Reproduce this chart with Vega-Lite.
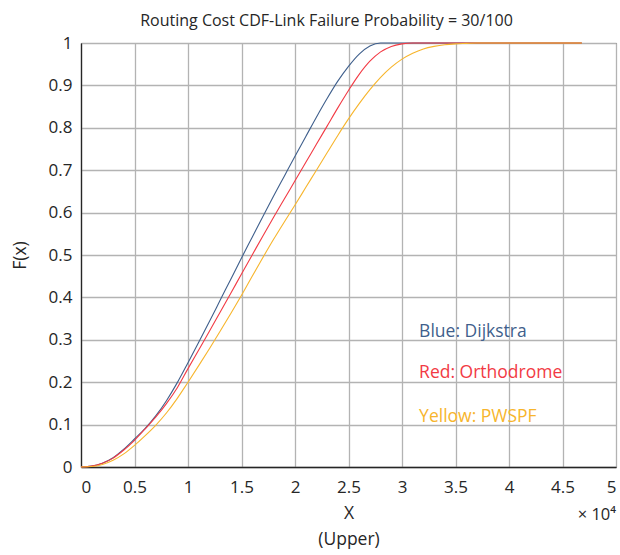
{
  "$schema": "https://vega.github.io/schema/vega-lite/v6.json",
  "width": 535,
  "height": 424,
  "autosize": {"type": "none"},
  "padding": {"left": 81, "top": 43, "right": 4, "bottom": 88},
  "background": "white",
  "config": {
    "font": "Open Sans",
    "view": {"stroke": "#404040", "strokeWidth": 1},
    "axis": {
      "gridColor": "#b3b3b3",
      "gridWidth": 1.3,
      "gridOpacity": 1,
      "domainColor": "#262626",
      "domainWidth": 1.3,
      "ticks": false,
      "labelColor": "#262626",
      "titleColor": "#262626",
      "labelFont": "Open Sans",
      "titleFont": "Open Sans",
      "labelFontSize": 17,
      "titleFontSize": 17.5,
      "titleFontWeight": "normal"
    }
  },
  "title": {
    "text": "Routing Cost CDF-Link Failure Probability = 30/100",
    "font": "Open Sans",
    "fontSize": 16,
    "fontWeight": "normal",
    "color": "#262626",
    "anchor": "middle",
    "dx": -22,
    "offset": 5
  },
  "datasets": {
    "curves": [
      {"x": 0, "F": 0, "algo": "Dijkstra"},
      {"x": 1000, "F": 0.002, "algo": "Dijkstra"},
      {"x": 2000, "F": 0.009, "algo": "Dijkstra"},
      {"x": 3000, "F": 0.022, "algo": "Dijkstra"},
      {"x": 4000, "F": 0.042, "algo": "Dijkstra"},
      {"x": 5000, "F": 0.066, "algo": "Dijkstra"},
      {"x": 6000, "F": 0.091, "algo": "Dijkstra"},
      {"x": 7000, "F": 0.121, "algo": "Dijkstra"},
      {"x": 8000, "F": 0.157, "algo": "Dijkstra"},
      {"x": 9000, "F": 0.199, "algo": "Dijkstra"},
      {"x": 10000, "F": 0.246, "algo": "Dijkstra"},
      {"x": 11000, "F": 0.294, "algo": "Dijkstra"},
      {"x": 12000, "F": 0.343, "algo": "Dijkstra"},
      {"x": 13000, "F": 0.393, "algo": "Dijkstra"},
      {"x": 14000, "F": 0.443, "algo": "Dijkstra"},
      {"x": 15000, "F": 0.493, "algo": "Dijkstra"},
      {"x": 16000, "F": 0.542, "algo": "Dijkstra"},
      {"x": 17000, "F": 0.591, "algo": "Dijkstra"},
      {"x": 18000, "F": 0.639, "algo": "Dijkstra"},
      {"x": 19000, "F": 0.686, "algo": "Dijkstra"},
      {"x": 20000, "F": 0.733, "algo": "Dijkstra"},
      {"x": 21000, "F": 0.779, "algo": "Dijkstra"},
      {"x": 22000, "F": 0.825, "algo": "Dijkstra"},
      {"x": 23000, "F": 0.869, "algo": "Dijkstra"},
      {"x": 24000, "F": 0.91, "algo": "Dijkstra"},
      {"x": 25000, "F": 0.945, "algo": "Dijkstra"},
      {"x": 26000, "F": 0.974, "algo": "Dijkstra"},
      {"x": 27000, "F": 0.993, "algo": "Dijkstra"},
      {"x": 28000, "F": 1.0, "algo": "Dijkstra"},
      {"x": 30000, "F": 1.0, "algo": "Dijkstra"},
      {"x": 35000, "F": 1.0, "algo": "Dijkstra"},
      {"x": 40000, "F": 1.0, "algo": "Dijkstra"},
      {"x": 46800, "F": 1.0, "algo": "Dijkstra"},
      {"x": 0, "F": 0, "algo": "Orthodrome"},
      {"x": 1000, "F": 0.002, "algo": "Orthodrome"},
      {"x": 2000, "F": 0.009, "algo": "Orthodrome"},
      {"x": 3000, "F": 0.021, "algo": "Orthodrome"},
      {"x": 4000, "F": 0.04, "algo": "Orthodrome"},
      {"x": 5000, "F": 0.063, "algo": "Orthodrome"},
      {"x": 6000, "F": 0.09, "algo": "Orthodrome"},
      {"x": 7000, "F": 0.118, "algo": "Orthodrome"},
      {"x": 8000, "F": 0.15, "algo": "Orthodrome"},
      {"x": 9000, "F": 0.187, "algo": "Orthodrome"},
      {"x": 10000, "F": 0.232, "algo": "Orthodrome"},
      {"x": 11000, "F": 0.276, "algo": "Orthodrome"},
      {"x": 12000, "F": 0.32, "algo": "Orthodrome"},
      {"x": 13000, "F": 0.365, "algo": "Orthodrome"},
      {"x": 14000, "F": 0.41, "algo": "Orthodrome"},
      {"x": 15000, "F": 0.455, "algo": "Orthodrome"},
      {"x": 16000, "F": 0.5, "algo": "Orthodrome"},
      {"x": 17000, "F": 0.545, "algo": "Orthodrome"},
      {"x": 18000, "F": 0.589, "algo": "Orthodrome"},
      {"x": 19000, "F": 0.632, "algo": "Orthodrome"},
      {"x": 20000, "F": 0.675, "algo": "Orthodrome"},
      {"x": 21000, "F": 0.718, "algo": "Orthodrome"},
      {"x": 22000, "F": 0.761, "algo": "Orthodrome"},
      {"x": 23000, "F": 0.804, "algo": "Orthodrome"},
      {"x": 24000, "F": 0.847, "algo": "Orthodrome"},
      {"x": 25000, "F": 0.888, "algo": "Orthodrome"},
      {"x": 26000, "F": 0.926, "algo": "Orthodrome"},
      {"x": 27000, "F": 0.957, "algo": "Orthodrome"},
      {"x": 28000, "F": 0.979, "algo": "Orthodrome"},
      {"x": 29000, "F": 0.992, "algo": "Orthodrome"},
      {"x": 30000, "F": 0.998, "algo": "Orthodrome"},
      {"x": 31000, "F": 1.0, "algo": "Orthodrome"},
      {"x": 35000, "F": 1.0, "algo": "Orthodrome"},
      {"x": 40000, "F": 1.0, "algo": "Orthodrome"},
      {"x": 46800, "F": 1.0, "algo": "Orthodrome"},
      {"x": 0, "F": 0, "algo": "PWSPF"},
      {"x": 1000, "F": 0.001, "algo": "PWSPF"},
      {"x": 2000, "F": 0.006, "algo": "PWSPF"},
      {"x": 3000, "F": 0.016, "algo": "PWSPF"},
      {"x": 4000, "F": 0.031, "algo": "PWSPF"},
      {"x": 5000, "F": 0.051, "algo": "PWSPF"},
      {"x": 6000, "F": 0.074, "algo": "PWSPF"},
      {"x": 7000, "F": 0.099, "algo": "PWSPF"},
      {"x": 8000, "F": 0.128, "algo": "PWSPF"},
      {"x": 9000, "F": 0.162, "algo": "PWSPF"},
      {"x": 10000, "F": 0.2, "algo": "PWSPF"},
      {"x": 11000, "F": 0.239, "algo": "PWSPF"},
      {"x": 12000, "F": 0.279, "algo": "PWSPF"},
      {"x": 13000, "F": 0.32, "algo": "PWSPF"},
      {"x": 14000, "F": 0.362, "algo": "PWSPF"},
      {"x": 15000, "F": 0.405, "algo": "PWSPF"},
      {"x": 16000, "F": 0.45, "algo": "PWSPF"},
      {"x": 17000, "F": 0.494, "algo": "PWSPF"},
      {"x": 18000, "F": 0.537, "algo": "PWSPF"},
      {"x": 19000, "F": 0.578, "algo": "PWSPF"},
      {"x": 20000, "F": 0.618, "algo": "PWSPF"},
      {"x": 21000, "F": 0.659, "algo": "PWSPF"},
      {"x": 22000, "F": 0.7, "algo": "PWSPF"},
      {"x": 23000, "F": 0.741, "algo": "PWSPF"},
      {"x": 24000, "F": 0.782, "algo": "PWSPF"},
      {"x": 25000, "F": 0.821, "algo": "PWSPF"},
      {"x": 26000, "F": 0.857, "algo": "PWSPF"},
      {"x": 27000, "F": 0.89, "algo": "PWSPF"},
      {"x": 28000, "F": 0.919, "algo": "PWSPF"},
      {"x": 29000, "F": 0.943, "algo": "PWSPF"},
      {"x": 30000, "F": 0.962, "algo": "PWSPF"},
      {"x": 31000, "F": 0.976, "algo": "PWSPF"},
      {"x": 32000, "F": 0.986, "algo": "PWSPF"},
      {"x": 33000, "F": 0.992, "algo": "PWSPF"},
      {"x": 34000, "F": 0.996, "algo": "PWSPF"},
      {"x": 35000, "F": 0.998, "algo": "PWSPF"},
      {"x": 36000, "F": 0.999, "algo": "PWSPF"},
      {"x": 37000, "F": 1.0, "algo": "PWSPF"},
      {"x": 40000, "F": 1.0, "algo": "PWSPF"},
      {"x": 46800, "F": 1.0, "algo": "PWSPF"}
    ],
    "labels": [
      {"x": 31600, "F": 0.318, "algo": "Dijkstra", "label": "Blue: Dijkstra"},
      {"x": 31600, "F": 0.222, "algo": "Orthodrome", "label": "Red: Orthodrome"},
      {"x": 31600, "F": 0.118, "algo": "PWSPF", "label": "Yellow: PWSPF"}
    ],
    "exponent": [
      {"x": 50000, "F": 0, "label": "× 10⁴"}
    ]
  },
  "layer": [
    {
      "data": {"name": "curves"},
      "mark": {"type": "line", "strokeWidth": 1.1, "interpolate": "monotone"},
      "encoding": {
        "x": {
          "field": "x",
          "type": "quantitative",
          "scale": {"domain": [0, 50000], "nice": false, "zero": false},
          "axis": {
            "values": [0, 5000, 10000, 15000, 20000, 25000, 30000, 35000, 40000, 45000, 50000],
            "labelExpr": "format(datum.value / 10000, '~g')",
            "labelPadding": 12,
            "title": ["X", "(Upper)"],
            "titlePadding": 9,
            "titleLineHeight": 26
          }
        },
        "y": {
          "field": "F",
          "type": "quantitative",
          "scale": {"domain": [0, 1], "nice": false},
          "axis": {
            "values": [0, 0.1, 0.2, 0.3, 0.4, 0.5, 0.6, 0.7, 0.8, 0.9, 1],
            "format": "~g",
            "labelPadding": 9,
            "title": "F(x)",
            "titlePadding": 19
          }
        },
        "color": {
          "field": "algo",
          "type": "nominal",
          "scale": {"domain": ["Dijkstra", "Orthodrome", "PWSPF"], "range": ["#3F5F8C", "#F23A44", "#F7B52C"]},
          "legend": null
        }
      }
    },
    {
      "data": {"name": "labels"},
      "mark": {"type": "text", "align": "left", "baseline": "middle", "fontSize": 17.5, "font": "Open Sans"},
      "encoding": {
        "x": {"field": "x", "type": "quantitative"},
        "y": {"field": "F", "type": "quantitative"},
        "text": {"field": "label"},
        "color": {"field": "algo", "type": "nominal", "legend": null}
      }
    },
    {
      "data": {"name": "exponent"},
      "mark": {"type": "text", "align": "right", "baseline": "middle", "fontSize": 16.5, "dy": 48, "color": "#262626", "font": "Open Sans"},
      "encoding": {
        "x": {"field": "x", "type": "quantitative"},
        "y": {"field": "F", "type": "quantitative"},
        "text": {"field": "label"}
      }
    }
  ]
}
